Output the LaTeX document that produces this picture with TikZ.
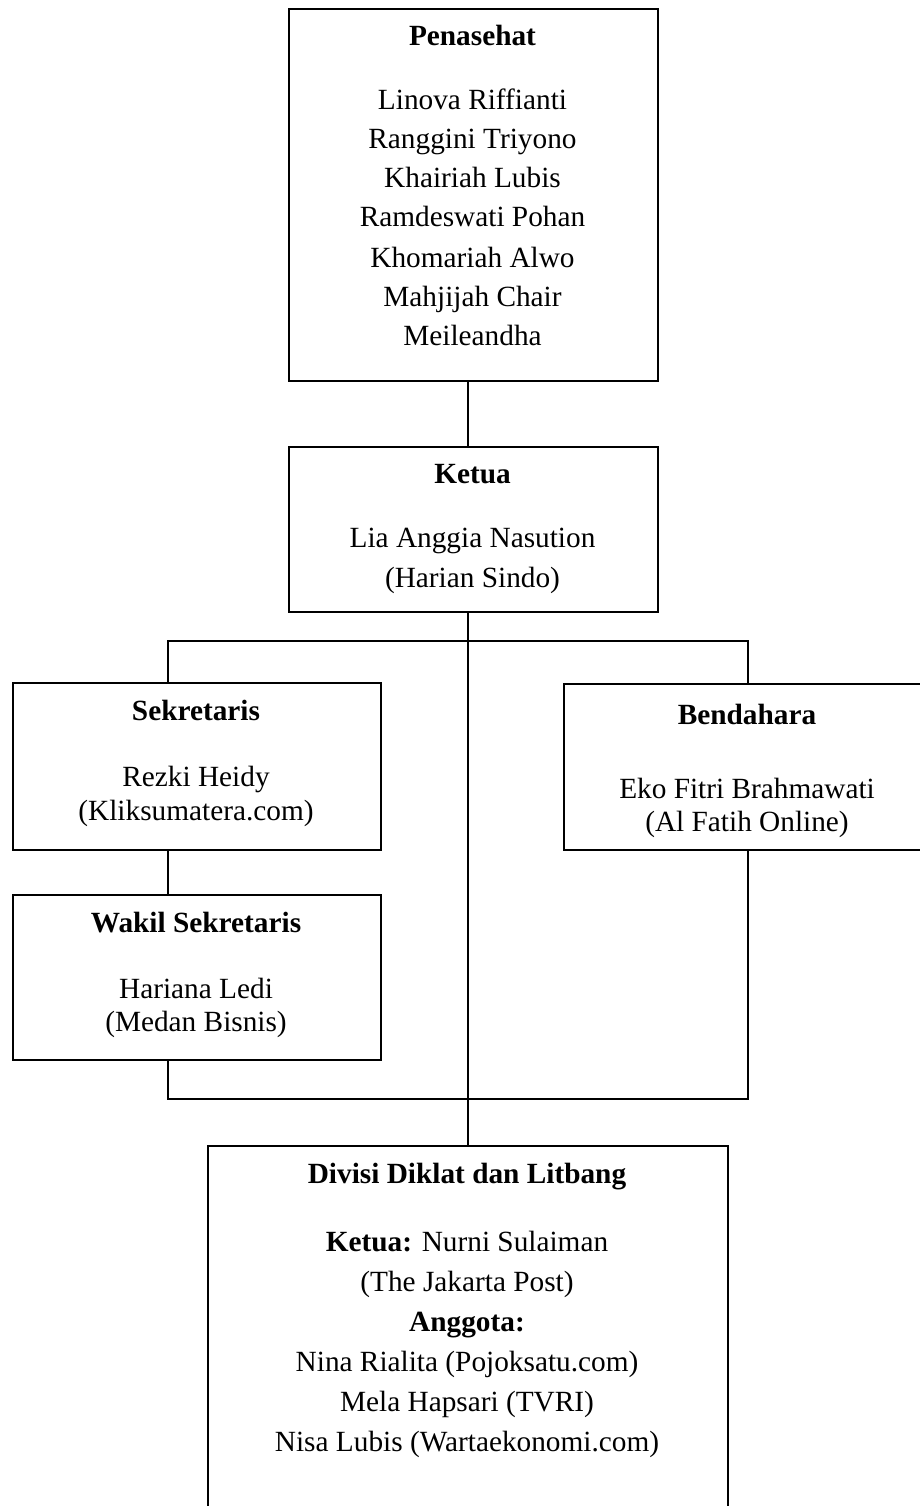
\documentclass[tikz,border=0pt]{standalone}
\usepackage{fontspec}
\setmainfont{Liberation Serif}
\begin{document}
\begin{tikzpicture}[x=1pt,y=-1pt,
  box/.style={draw=black, line width=2pt, rectangle, inner sep=0pt, anchor=north west},
  link/.style={draw=black, line width=1.5pt},
  txt/.style={anchor=base, inner sep=0pt, font=\fontsize{29.3}{34}\selectfont},
  ttl/.style={txt, font=\fontsize{29.3}{34}\selectfont\bfseries}]
\useasboundingbox (0,0) rectangle (920,1506);
\begin{scope}
\clip (0,0) rectangle (920,1506);
% boxes
\node[box, minimum width=369pt, minimum height=372pt] (pen) at (288,8) {};
\node[box, minimum width=369pt, minimum height=165pt] (ket) at (288,446) {};
\node[box, minimum width=368pt, minimum height=167pt] (sek) at (12,682) {};
\node[box, minimum width=368pt, minimum height=166pt] (ben) at (563,683) {};
\node[box, minimum width=368pt, minimum height=165pt] (wak) at (12,894) {};
\node[box, minimum width=520pt, minimum height=390pt] (div) at (207,1145) {};

% guide coordinates for the connector runs
\coordinate (trunk) at (468,0);
\coordinate (lx) at (168,0);
\coordinate (bar) at (0,641);
\coordinate (lowbar) at (0,1099);

% connectors
\draw[link] (pen.south -| trunk) -- (ket.north -| trunk);
\draw[link] (ket.south -| trunk) -- (div.north -| trunk);
\draw[link] (sek.north -| lx) -- (lx |- bar) -- (ben.north |- bar) -- (ben.north);
\draw[link] (sek.south -| lx) -- (wak.north -| lx);
\draw[link] (wak.south -| lx) -- (lx |- lowbar) -- (ben.south |- lowbar) -- (ben.south);
\end{scope}

% Penasehat
\node[ttl] (penT) at (472.5,46) {Penasehat};
\node[txt] (pen1) at (472.5,110) {Linova Riffianti};
\node[txt] (pen2) at (472.5,149) {Ranggini Triyono};
\node[txt] (pen3) at (472.5,188) {Khairiah Lubis};
\node[txt] (pen4) at (472.5,227) {Ramdeswati Pohan};
\node[txt] (pen5) at (472.5,267) {Khomariah Alwo};
\node[txt] (pen6) at (472.5,306) {Mahjijah Chair};
\node[txt] (pen7) at (472.5,345) {Meileandha};

% Ketua
\node[ttl] (ketT) at (472.5,483) {Ketua};
\node[txt] (ket1) at (472.5,547) {Lia Anggia Nasution};
\node[txt] (ket2) at (472.5,587) {(Harian Sindo)};

% Sekretaris
\node[ttl] (sekT) at (196,720) {Sekretaris};
\node[txt] (sek1) at (196,786) {Rezki Heidy};
\node[txt] (sek2) at (196,820) {(Kliksumatera.com)};

% Bendahara
\node[ttl] (benT) at (747,724) {Bendahara};
\node[txt] (ben1) at (747,798) {Eko Fitri Brahmawati};
\node[txt] (ben2) at (747,831) {(Al Fatih Online)};

% Wakil Sekretaris
\node[ttl] (wakT) at (196,932) {Wakil Sekretaris};
\node[txt] (wak1) at (196,998) {Hariana Ledi};
\node[txt] (wak2) at (196,1031) {(Medan Bisnis)};

% Divisi Diklat dan Litbang
\node[ttl] (divT) at (467,1183) {Divisi Diklat dan Litbang};
\node[txt] (div1) at (467,1251) {\textbf{Ketua:} Nurni Sulaiman};
\node[txt] (div2) at (467,1291) {(The Jakarta Post)};
\node[ttl] (div3) at (467,1331) {Anggota:};
\node[txt] (div4) at (467,1371) {Nina Rialita (Pojoksatu.com)};
\node[txt] (div5) at (467,1411) {Mela Hapsari (TVRI)};
\node[txt] (div6) at (467,1451) {Nisa Lubis (Wartaekonomi.com)};
\end{tikzpicture}
\end{document}
